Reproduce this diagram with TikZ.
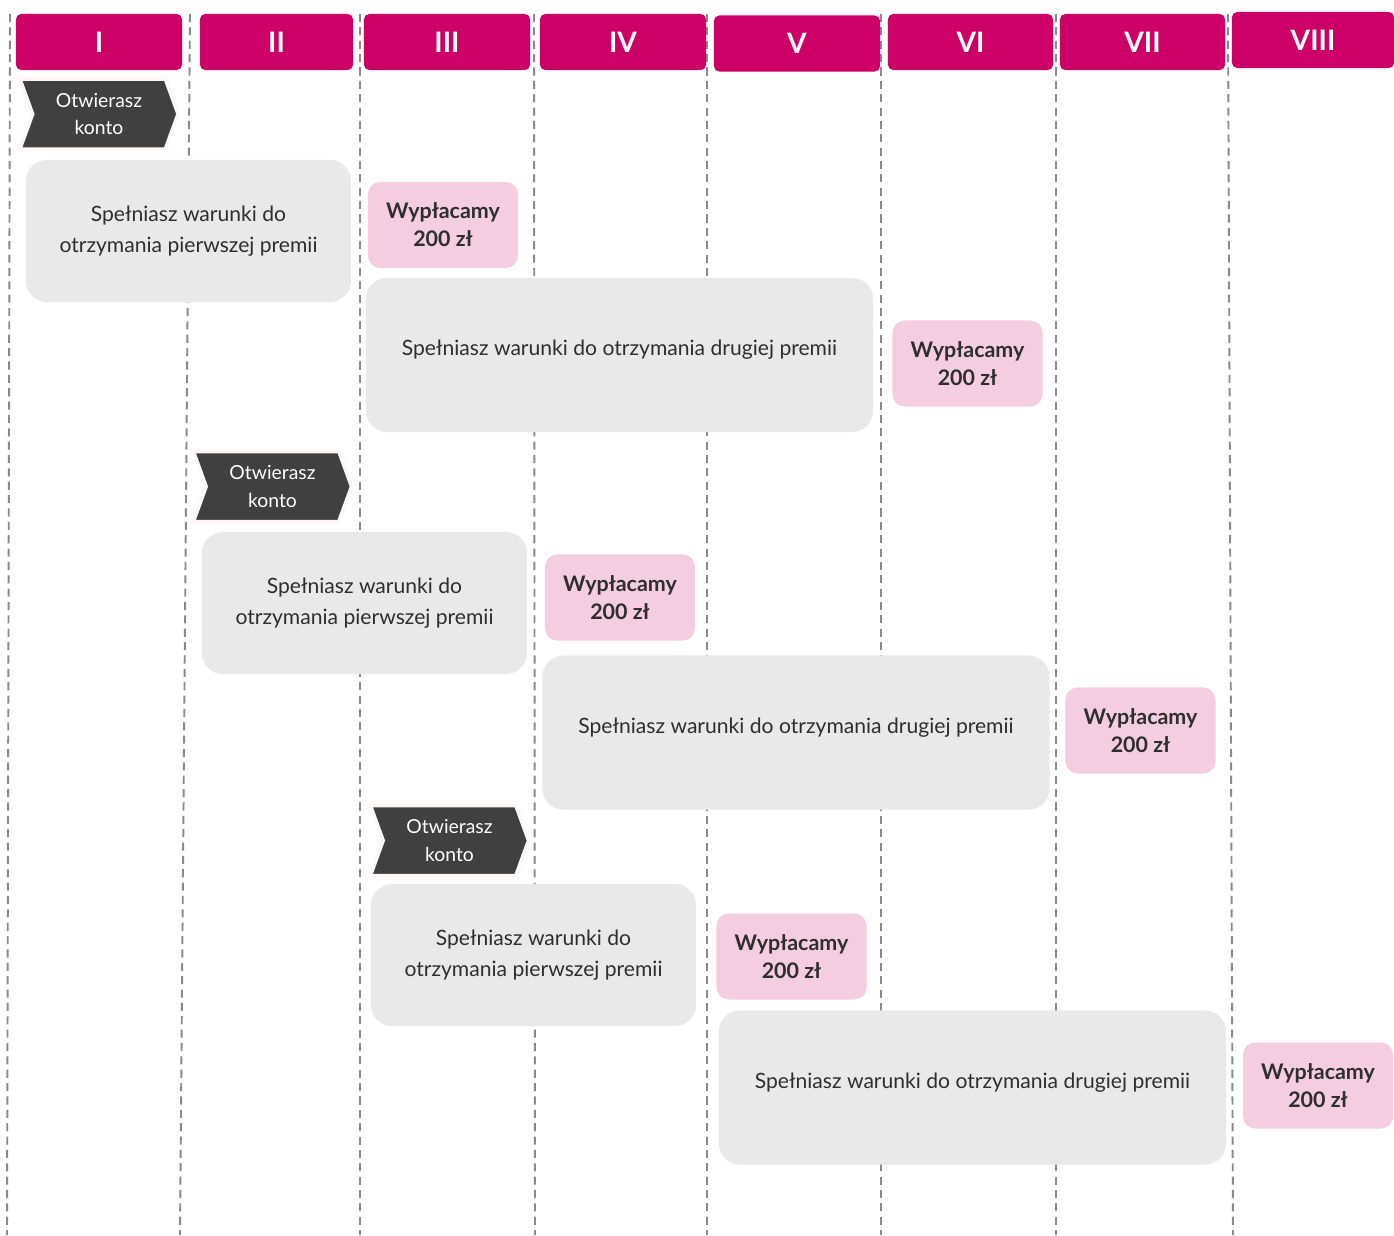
\documentclass[tikz,border=0pt]{standalone}
\usepackage{fontspec}
\setmainfont{Lato}
\usetikzlibrary{shapes.symbols}

\definecolor{headpink}{HTML}{CC0066}
\definecolor{chevgray}{HTML}{404040}
\definecolor{boxgray}{HTML}{E9E9E9}
\definecolor{paypink}{HTML}{F4CDE0}
\definecolor{textgray}{HTML}{2E2E2E}
\definecolor{linegray}{HTML}{8A8A8A}

\tikzset{
  header/.style={fill=headpink, text=white, rounded corners=1.5pt, inner sep=0pt,
    font=\fontsize{8}{9}\selectfont\bfseries},
  opennode/.style={signal, signal from=west, signal to=east, signal pointer angle=140,
    fill=chevgray, draw=pink!12, line width=1pt, text=white, align=center, inner sep=0pt,
    minimum width=1.58cm, minimum height=0.70cm, font=\fontsize{5.5}{7.9}\selectfont},
  cond/.style={fill=boxgray, rounded corners=6pt, text=textgray, align=center, inner sep=0pt,
    font=\fontsize{6}{8.8}\selectfont},
  longcond/.style={cond, minimum width=5.07cm, minimum height=1.54cm, text depth=0.14cm},
  pay/.style={fill=paypink, rounded corners=3.5pt, text=textgray, align=center, inner sep=0pt,
    minimum width=1.50cm, minimum height=0.86cm, font=\fontsize{6.1}{8}\selectfont\bfseries},
  colline/.style={draw=linegray, line width=0.55pt, dash pattern=on 2.3pt off 1.5pt}
}

\begin{document}
\begin{tikzpicture}[x=0.01cm, y=-0.01cm]
\useasboundingbox (0,0) rectangle (1394,1235);

% kolumny
\foreach \xa/\xb in {10/7, 190/180, 360/360, 534/535, 707/707, 881/881, 1056/1056, 1228/1233}
  \draw[colline] (\xa,14) -- (\xb,1235);

% naglowki
\node[header, minimum width=1.66cm, minimum height=0.56cm] (h1) at (99,42) {I};
\node[header, minimum width=1.53cm, minimum height=0.56cm] (h2) at (276.5,42) {II};
\node[header, minimum width=1.66cm, minimum height=0.56cm] (h3) at (447,42) {III};
\node[header, minimum width=1.66cm, minimum height=0.56cm] (h4) at (623,42) {IV};
\node[header, minimum width=1.66cm, minimum height=0.56cm] (h5) at (797,43.5) {V};
\node[header, minimum width=1.65cm, minimum height=0.56cm] (h6) at (970.5,42) {VI};
\node[header, minimum width=1.65cm, minimum height=0.56cm] (h7) at (1142.5,42) {VII};
\node[header, minimum width=1.62cm, minimum height=0.56cm] (h8) at (1313,40) {VIII};

% pierwsze konto
\node[opennode] (open1) at (99,114) {Otwierasz\\konto};
\node[cond, minimum width=3.25cm, minimum height=1.42cm] (first1) at (188.5,231)
  {Spełniasz warunki do\\otrzymania pierwszej premii};
\node[pay] (pay1a) at (443,225) {Wypłacamy\\200 zł};
\node[longcond] (second1) at (619.5,355)
  {Spełniasz warunki do otrzymania drugiej premii};
\node[pay] (pay1b) at (967.5,363.5) {Wypłacamy\\200 zł};

% drugie konto
\node[opennode] (open2) at (272.5,486.5) {Otwierasz\\konto};
\node[cond, minimum width=3.25cm, minimum height=1.42cm] (first2) at (364.5,603)
  {Spełniasz warunki do\\otrzymania pierwszej premii};
\node[pay] (pay2a) at (620,597.5) {Wypłacamy\\200 zł};
\node[longcond] (second2) at (796,732.5)
  {Spełniasz warunki do otrzymania drugiej premii};
\node[pay] (pay2b) at (1140.5,730.5) {Wypłacamy\\200 zł};

% trzecie konto
\node[opennode] (open3) at (449.5,840.5) {Otwierasz\\konto};
\node[cond, minimum width=3.25cm, minimum height=1.42cm] (first3) at (533.5,955)
  {Spełniasz warunki do\\otrzymania pierwszej premii};
\node[pay] (pay3a) at (791.5,956.5) {Wypłacamy\\200 zł};
\node[longcond] (second3) at (972.5,1087.5)
  {Spełniasz warunki do otrzymania drugiej premii};
\node[pay] (pay3b) at (1318,1085.5) {Wypłacamy\\200 zł};

\end{tikzpicture}
\end{document}
